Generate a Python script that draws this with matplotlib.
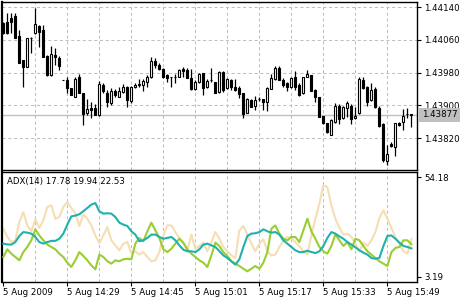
import matplotlib
matplotlib.use("Agg")
import matplotlib.pyplot as plt
import matplotlib.transforms as mtransforms

# 1 minute candles, 5 Aug 2009 14:13 .. 15:55
opens = [1.44101, 1.44103, 1.44113, 1.44118, 1.44069, 1.44011, 1.43994, 1.44064, 1.44077, 1.44094,
         1.44084, 1.44020, 1.43974, 1.44023, 1.44016, 1.43962, 1.43962, 1.43942, 1.43920, 1.43969,
         1.43930, 1.43881, 1.43894, 1.43894, 1.43876, 1.43950, 1.43930, 1.43906, 1.43935, 1.43920,
         1.43933, 1.43945, 1.43911, 1.43945, 1.43952, 1.43950, 1.43957, 1.43969, 1.44008, 1.43998,
         1.43989, 1.43974, 1.43969, 1.43969, 1.43969, 1.43989, 1.43986, 1.43967, 1.43940, 1.43957,
         1.43979, 1.43945, 1.43962, 1.43957, 1.43933, 1.43981, 1.43942, 1.43962, 1.43945, 1.43942,
         1.43930, 1.43881, 1.43913, 1.43898, 1.43916, 1.43916, 1.43908, 1.43940, 1.43964, 1.43991,
         1.43962, 1.43955, 1.43945, 1.43969, 1.43950, 1.43930, 1.43969, 1.43974, 1.43937, 1.43920,
         1.43874, 1.43857, 1.43828, 1.43859, 1.43898, 1.43869, 1.43894, 1.43898, 1.43869, 1.43881,
         1.43962, 1.43945, 1.43913, 1.43940, 1.43894, 1.43855, 1.43764, 1.43806, 1.43798, 1.43857,
         1.43859, 1.43879, 1.43879]
highs = [1.44103, 1.44125, 1.44125, 1.44125, 1.44084, 1.44011, 1.44064, 1.44067, 1.44138, 1.44096,
         1.44096, 1.44023, 1.44045, 1.44040, 1.44020, 1.43962, 1.43969, 1.43942, 1.43969, 1.43977,
         1.43930, 1.43916, 1.43908, 1.43903, 1.43959, 1.43955, 1.43937, 1.43942, 1.43940, 1.43945,
         1.43952, 1.43947, 1.43947, 1.43955, 1.43964, 1.43964, 1.43974, 1.44018, 1.44016, 1.44003,
         1.43991, 1.43977, 1.43969, 1.43977, 1.43989, 1.43994, 1.43991, 1.43989, 1.43962, 1.43979,
         1.43979, 1.43964, 1.43991, 1.43957, 1.43984, 1.43984, 1.43967, 1.43964, 1.43964, 1.43947,
         1.43930, 1.43918, 1.43916, 1.43923, 1.43920, 1.43916, 1.43945, 1.43977, 1.43996, 1.43996,
         1.43967, 1.43957, 1.43969, 1.43984, 1.43955, 1.43969, 1.43986, 1.43974, 1.43940, 1.43920,
         1.43874, 1.43857, 1.43867, 1.43906, 1.43903, 1.43898, 1.43911, 1.43903, 1.43896, 1.43969,
         1.43969, 1.43947, 1.43955, 1.43945, 1.43898, 1.43857, 1.43803, 1.43811, 1.43857, 1.43859,
         1.43891, 1.43894, 1.43879]
lows = [1.44074, 1.44074, 1.44077, 1.44064, 1.44003, 1.43945, 1.43994, 1.44028, 1.44074, 1.44042,
        1.44018, 1.43972, 1.43972, 1.43998, 1.43986, 1.43962, 1.43930, 1.43925, 1.43920, 1.43930,
        1.43852, 1.43876, 1.43869, 1.43876, 1.43874, 1.43930, 1.43896, 1.43901, 1.43920, 1.43920,
        1.43930, 1.43896, 1.43906, 1.43942, 1.43945, 1.43935, 1.43945, 1.43967, 1.43991, 1.43986,
        1.43967, 1.43957, 1.43945, 1.43955, 1.43969, 1.43969, 1.43967, 1.43937, 1.43937, 1.43955,
        1.43925, 1.43942, 1.43957, 1.43930, 1.43930, 1.43933, 1.43940, 1.43937, 1.43935, 1.43918,
        1.43869, 1.43881, 1.43896, 1.43889, 1.43911, 1.43889, 1.43886, 1.43940, 1.43962, 1.43962,
        1.43945, 1.43935, 1.43942, 1.43937, 1.43923, 1.43928, 1.43969, 1.43935, 1.43908, 1.43872,
        1.43855, 1.43833, 1.43828, 1.43857, 1.43855, 1.43867, 1.43872, 1.43855, 1.43867, 1.43879,
        1.43940, 1.43898, 1.43911, 1.43894, 1.43847, 1.43762, 1.43754, 1.43798, 1.43776, 1.43850,
        1.43840, 1.43869, 1.43847]
closes = [1.44077, 1.44077, 1.44103, 1.44064, 1.44003, 1.43994, 1.44064, 1.44064, 1.44099, 1.44079,
          1.44018, 1.43974, 1.44025, 1.44018, 1.43996, 1.43962, 1.43942, 1.43925, 1.43964, 1.43930,
          1.43879, 1.43891, 1.43889, 1.43876, 1.43952, 1.43935, 1.43908, 1.43935, 1.43925, 1.43935,
          1.43945, 1.43913, 1.43945, 1.43950, 1.43950, 1.43959, 1.43969, 1.44008, 1.43998, 1.43989,
          1.43969, 1.43967, 1.43969, 1.43969, 1.43986, 1.43984, 1.43967, 1.43940, 1.43957, 1.43977,
          1.43942, 1.43959, 1.43962, 1.43930, 1.43981, 1.43937, 1.43964, 1.43945, 1.43937, 1.43928,
          1.43879, 1.43916, 1.43896, 1.43913, 1.43916, 1.43908, 1.43942, 1.43967, 1.43991, 1.43962,
          1.43950, 1.43945, 1.43967, 1.43945, 1.43925, 1.43969, 1.43977, 1.43935, 1.43920, 1.43872,
          1.43857, 1.43835, 1.43864, 1.43898, 1.43867, 1.43896, 1.43906, 1.43867, 1.43874, 1.43964,
          1.43942, 1.43908, 1.43937, 1.43896, 1.43850, 1.43767, 1.43781, 1.43801, 1.43857, 1.43852,
          1.43874, 1.43879, 1.43877]

adx = [20.2, 19.8, 19.7, 21.0, 24.1, 26.1, 25.8, 25.3, 23.6, 21.0,
       20.2, 21.0, 21.6, 21.6, 22.7, 25.3, 29.9, 34.1, 34.5, 35.2,
       36.7, 38.4, 40.1, 40.9, 36.7, 35.5, 35.7, 35.5, 33.8, 30.9,
       29.9, 29.2, 26.5, 24.8, 21.4, 21.9, 23.1, 24.8, 24.8, 23.6,
       22.7, 23.1, 23.6, 21.9, 19.3, 17.1, 16.3, 16.3, 15.9, 17.3,
       19.7, 20.2, 19.3, 18.5, 16.4, 14.2, 12.9, 11.2, 9.5, 12.2,
       18.5, 24.1, 25.3, 25.5, 26.1, 27.5, 26.5, 25.8, 26.1, 24.8,
       21.9, 20.2, 18.5, 16.8, 15.9, 15.9, 16.6, 15.9, 15.4, 16.3,
       19.0, 23.1, 26.1, 25.3, 23.9, 22.7, 21.0, 19.7, 18.3, 16.8,
       15.6, 14.6, 12.9, 12.5, 12.9, 19.0, 24.1, 24.4, 22.7, 20.7,
       19.0, 18.5, 17.78]
plus_di = [13.4, 17.3, 15.1, 13.4, 11.7, 15.9, 18.5, 21.9, 27.5, 24.4,
           21.9, 19.7, 18.5, 17.3, 15.1, 13.4, 10.5, 8.3, 11.7, 15.9,
           13.9, 11.7, 9.1, 7.1, 14.6, 13.4, 11.2, 10.0, 11.7, 11.2,
           12.2, 12.5, 12.2, 20.2, 23.1, 21.4, 26.5, 30.9, 27.0, 23.1,
           17.3, 15.9, 17.6, 20.2, 22.7, 20.7, 17.3, 15.1, 13.4, 11.7,
           10.5, 8.3, 14.2, 20.7, 19.0, 15.9, 13.9, 11.2, 10.0, 8.8,
           7.4, 6.1, 7.4, 8.8, 7.4, 10.5, 15.9, 27.8, 29.5, 25.3,
           22.7, 21.9, 23.6, 23.6, 21.0, 27.0, 32.9, 26.5, 22.7, 18.5,
           16.3, 15.1, 19.0, 24.8, 21.9, 19.0, 21.0, 17.3, 22.7, 21.9,
           19.0, 16.3, 14.6, 12.9, 11.2, 10.0, 8.8, 15.9, 18.0, 18.5,
           21.9, 21.9, 19.94]
minus_di = [27.8, 23.6, 21.0, 21.9, 31.2, 36.3, 29.5, 26.5, 32.6, 28.2,
            32.1, 38.9, 39.7, 32.9, 33.8, 38.9, 41.4, 38.4, 35.5, 29.2,
            35.0, 32.9, 29.5, 24.4, 20.5, 24.4, 28.7, 21.9, 19.3, 16.8,
            20.2, 21.0, 15.4, 16.3, 14.6, 15.9, 13.4, 11.2, 11.7, 15.9,
            24.4, 29.5, 29.5, 26.1, 23.1, 20.2, 16.8, 24.8, 17.6, 19.0,
            20.7, 16.3, 21.0, 26.1, 22.7, 18.5, 16.3, 14.2, 12.9, 27.0,
            29.2, 24.8, 20.2, 16.3, 20.2, 22.4, 16.3, 14.2, 14.6, 18.5,
            21.9, 23.6, 23.1, 21.0, 19.0, 16.3, 14.6, 24.4, 32.9, 40.6,
            50.0, 49.0, 39.7, 32.9, 28.2, 24.8, 25.3, 23.6, 20.2, 16.3,
            20.7, 19.0, 21.9, 26.1, 33.3, 37.2, 32.9, 28.2, 23.6, 20.2,
            16.3, 15.1, 22.53]

time_ticks = [0, 16, 32, 48, 64, 80, 96]
time_labels = ["5 Aug 2009", "5 Aug 14:29", "5 Aug 14:45", "5 Aug 15:01",
               "5 Aug 15:17", "5 Aug 15:33", "5 Aug 15:49"]
price_ticks = [1.43820, 1.43900, 1.43980, 1.44060, 1.44140]
adx_ticks = [3.19, 54.18]
last_price = 1.43877

plt.rcParams["font.family"] = "DejaVu Sans"
fig = plt.figure(figsize=(4.7, 3.0), dpi=100)
ax = fig.add_axes([2 / 470, 130 / 300, 415 / 470, 168 / 300])
ax2 = fig.add_axes([2 / 470, 18 / 300, 415 / 470, 110 / 300])

n = len(opens)
xs = list(range(n))
grid_kw = dict(color="#c0c0c0", lw=0.75, linestyle=(0, (3, 2.5)), zorder=0)

# price panel
for p in price_ticks:
    ax.axhline(p, **grid_kw)
for g in range(8, n, 8):
    ax.axvline(g, **grid_kw)
    ax2.axvline(g, **grid_kw)
ax.axhline(last_price, color="#c0c0c0", lw=1.0, zorder=1)

ax.vlines(xs, lows, highs, color="black", lw=0.9, zorder=2)
for i in xs:
    o, c = opens[i], closes[i]
    bottom = min(o, c)
    h = max(abs(c - o), 0.000003)
    face = "white" if c > o else "black"
    ax.bar(i, h, bottom=bottom, width=0.55, facecolor=face, edgecolor="black",
           linewidth=0.8, zorder=3)

ax.set_xlim(-0.33, 103.4)
ax.set_ylim(1.437423, 1.441522)
ax.set_xticks([])
ax.yaxis.tick_right()
ax.set_yticks(price_ticks)
ax.set_yticklabels(["%.5f" % p for p in price_ticks])
ax.tick_params(axis="y", length=3, width=0.8, pad=2, labelsize=6.2, colors="black")

trans = mtransforms.blended_transform_factory(ax.transAxes, ax.transData)
ax.text(1.012, last_price, "%.5f" % last_price, transform=trans, ha="left", va="center",
        fontsize=6.2, bbox=dict(boxstyle="square,pad=0.3", facecolor="#c0c0c0", edgecolor="none"))

# ADX panel
ax2.plot(xs, minus_di, color="#f5deb3", lw=1.5, zorder=2)
ax2.plot(xs, plus_di, color="#9acd32", lw=1.5, zorder=3)
ax2.plot(xs, adx, color="#20b2aa", lw=1.5, zorder=4)
ax2.set_xlim(-0.33, 103.4)
ax2.set_ylim(0.64, 56.73)
ax2.yaxis.tick_right()
ax2.set_yticks(adx_ticks)
ax2.set_yticklabels(["%.2f" % v for v in adx_ticks])
ax2.tick_params(axis="y", length=3, width=0.8, pad=2, labelsize=6.2)
ax2.set_xticks(time_ticks)
ax2.set_xticklabels(time_labels, ha="left")
ax2.tick_params(axis="x", length=3, width=0.8, pad=1.5, labelsize=6.2)
ax2.text(0.012, 0.955, "ADX(14) %.2f %.2f %.2f" % (adx[-1], plus_di[-1], minus_di[-1]),
         transform=ax2.transAxes, ha="left", va="top", fontsize=6.2)

for a in (ax, ax2):
    for s in a.spines.values():
        s.set_color("black")
        s.set_linewidth(1.0)
ax.spines["left"].set_linewidth(1.6)
ax2.spines["left"].set_linewidth(1.6)

fig.savefig("out.png", dpi=100, facecolor="white")
